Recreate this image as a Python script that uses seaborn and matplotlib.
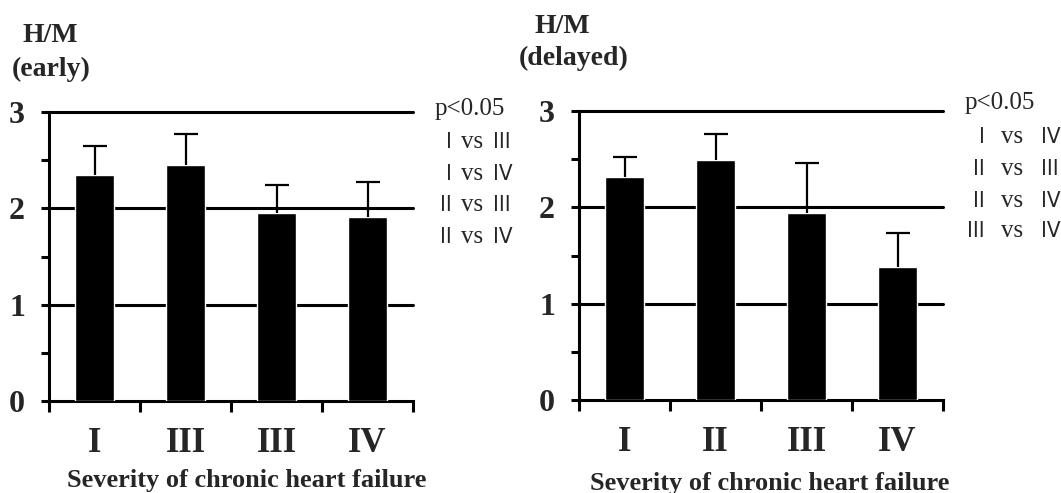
import numpy as np
import pandas as pd
import matplotlib
matplotlib.use("Agg")
import matplotlib.pyplot as plt
import seaborn as sns

# ---- data ----
groups = ["I", "II", "III", "IV"]
early_labels = ["I", "III", "III", "IV"]
delayed_labels = ["I", "II", "III", "IV"]
early_mean = [2.35, 2.45, 1.95, 1.91]
early_upper = [2.65, 2.77, 2.24, 2.27]
delayed_mean = [2.32, 2.49, 1.94, 1.38]
delayed_upper = [2.52, 2.76, 2.46, 1.73]
yticks = [0, 1, 2, 3]
yminor = [0.5, 1.5, 2.5]
early_pairs = [("I", "III"), ("I", "IV"), ("II", "III"), ("II", "IV")]
delayed_pairs = [("I", "IV"), ("II", "III"), ("II", "IV"), ("III", "IV")]
sig_text = "p<0.05"
xlabel = "Severity of chronic heart failure"
early_title = ["H/M", "(early)"]
delayed_title = ["H/M", "(delayed)"]

sns.set_style("ticks")
plt.rcParams["font.family"] = ["Liberation Serif", "DejaVu Serif"]
plt.rcParams["font.weight"] = "bold"

W, H = 1061, 493
fig = plt.figure(figsize=(W / 100, H / 100), dpi=100)


def fx(px):
    return px / W


def fy(py):
    return 1 - py / H


ax1 = fig.add_axes([fx(49), fy(401), 364 / W, 289 / H])
ax2 = fig.add_axes([fx(579), fy(400), 364 / W, 289 / H])

LW = 2.2


def draw(ax, mean, upper, labels):
    df = pd.DataFrame({"group": groups, "value": mean})
    sns.barplot(data=df, x="group", y="value", order=groups, color="black",
                saturation=1, width=0.42, errorbar=None, ax=ax, zorder=3)
    x = np.arange(len(groups))
    m = np.array(mean)
    err = np.array(upper) - m
    _, caps, _ = ax.errorbar(x, m, yerr=[np.zeros_like(err), err], fmt="none",
                             ecolor="black", elinewidth=1.6, capsize=8.5,
                             capthick=1.6, zorder=4)
    caps[0].set_visible(False)
    for v in yticks[1:]:
        ax.axhline(v, color="black", lw=LW, zorder=1, clip_on=False)
    ax.set_ylim(0, 3)
    ax.set_xlim(-0.5, 3.5)
    ax.set_yticks(yticks)
    ax.set_yticklabels([str(t) for t in yticks])
    ax.set_yticks(yminor, minor=True)
    ax.tick_params(axis="y", which="both", direction="out", length=5.8, width=LW,
                   left=True, right=False, color="black")
    ax.tick_params(axis="y", which="major", labelsize=23, pad=11.5)
    ax.set_xticks(np.arange(-0.5, 4.0, 1.0))
    ax.set_xticklabels([])
    ax.set_xticks(x, minor=True)
    ax.set_xticklabels(labels, minor=True)
    ax.tick_params(axis="x", which="major", direction="out", length=8, width=LW,
                   bottom=True, color="black")
    ax.tick_params(axis="x", which="minor", length=0, pad=19, labelsize=25)
    for lbl in ax.get_xticklabels(minor=True) + ax.get_yticklabels():
        lbl.set_fontweight("bold")
    ax.spines["top"].set_visible(False)
    ax.spines["right"].set_visible(False)
    for s in ["left", "bottom"]:
        ax.spines[s].set_linewidth(LW)
        ax.spines[s].set_color("black")
    ax.set_xlabel("")
    ax.set_ylabel("")
    ax.set_facecolor("white")


draw(ax1, early_mean, early_upper, early_labels)
draw(ax2, delayed_mean, delayed_upper, delayed_labels)

# titles
fig.text(fx(50), fy(42), early_title[0], ha="center", va="baseline", fontsize=20, fontweight="bold")
fig.text(fx(51), fy(76), early_title[1], ha="center", va="baseline", fontsize=20, fontweight="bold")
fig.text(fx(562), fy(33), delayed_title[0], ha="center", va="baseline", fontsize=20, fontweight="bold")
fig.text(fx(574), fy(65), delayed_title[1], ha="center", va="baseline", fontsize=20, fontweight="bold")

# x labels
fig.text(fx(247), fy(487), xlabel, ha="center", va="baseline", fontsize=19, fontweight="bold")
fig.text(fx(770), fy(490), xlabel, ha="center", va="baseline", fontsize=19, fontweight="bold")

# significance annotations
SANS = ["DejaVu Sans"]


def annotate(pairs, p_x, p_base, bases, left_r, vs_c, right_l):
    fig.text(fx(p_x), fy(p_base), sig_text, ha="left", va="baseline", fontsize=18,
             fontweight="normal")
    for (a, b), yb in zip(pairs, bases):
        fig.text(fx(left_r), fy(yb), a, ha="right", va="baseline", fontsize=16,
                 fontweight="normal", family=SANS, fontstretch="condensed")
        fig.text(fx(vs_c), fy(yb), "vs", ha="center", va="baseline", fontsize=18,
                 fontweight="normal")
        fig.text(fx(right_l), fy(yb), b, ha="left", va="baseline", fontsize=16,
                 fontweight="normal", family=SANS, fontstretch="condensed")


annotate(early_pairs, 435, 115, [148, 180, 211, 243], 452, 472, 493)
annotate(delayed_pairs, 965, 109, [143, 175, 207, 237], 985, 1012, 1041)

fig.savefig("out.png", dpi=100, facecolor="white")
